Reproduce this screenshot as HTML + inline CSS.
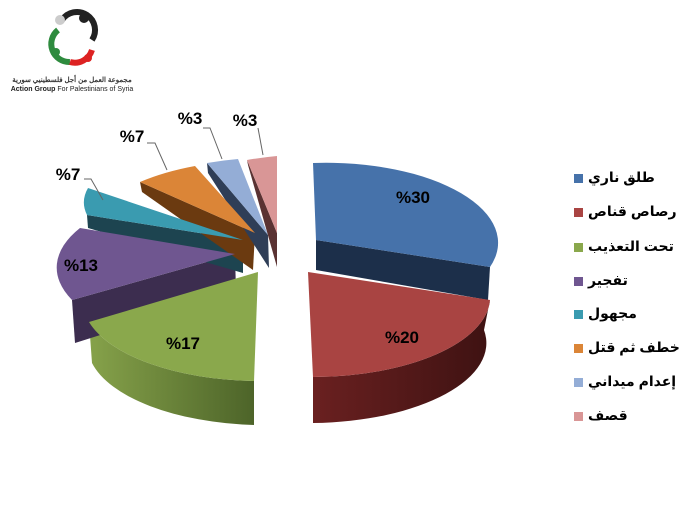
<!DOCTYPE html>
<html><head><meta charset="utf-8"><style>
body{margin:0;width:700px;height:525px;background:#fff;overflow:hidden;position:relative;font-family:"Liberation Sans","Noto Sans CJK SC",sans-serif}
.lg{position:absolute;left:574px;font:bold 14px "Liberation Sans","DejaVu Sans",sans-serif;color:#000;white-space:nowrap;line-height:18px}
.lg i{display:inline-block;width:9px;height:9px;margin-right:5px;vertical-align:middle}
</style></head><body>
<svg width="700" height="525" style="position:absolute;left:0;top:0">
<defs>
<linearGradient id="gr" x1="0" x2="1"><stop offset="0" stop-color="#6a2020"/><stop offset="1" stop-color="#3e1212"/></linearGradient>
<linearGradient id="gg" x1="0" x2="1"><stop offset="0" stop-color="#86a24a"/><stop offset="1" stop-color="#4d6429"/></linearGradient>
</defs>
<g>
<path d="M58,30 A18,18 0 0 0 70,62" fill="none" stroke="#2e8b3e" stroke-width="6"/>
<path d="M70,62 A18,18 0 0 0 92,50" fill="none" stroke="#d22" stroke-width="6"/>
<path d="M62,20 A18,18 0 0 1 92,40" fill="none" stroke="#222" stroke-width="6"/>
<circle cx="60" cy="20" r="5" fill="#ccc"/><circle cx="84" cy="18" r="5" fill="#222"/>
<circle cx="56" cy="52" r="4" fill="#2e8b3e"/><circle cx="88" cy="58" r="4" fill="#d22"/>
<text x="72" y="82" font-size="7" text-anchor="middle" font-weight="bold" fill="#333">مجموعة العمل من أجل فلسطينيي سورية</text>
<text x="72" y="91" font-size="7" text-anchor="middle" fill="#222"><tspan font-weight="bold">Action Group</tspan> For Palestinians of Syria</text>
</g>
<polygon points="316,240 490,267 488,300 316,270" fill="#1c2f4a"/>
<path d="M490,300 L484,330 A178,80 0 0 1 313,423 L313,377 A178,80 0 0 0 490,300Z" fill="url(#gr)"/>
<path d="M89,322 L92,363 A178,80 0 0 0 254,425 L254,381 A178,80 0 0 1 89,322Z" fill="url(#gg)"/>
<polygon points="235,254 72,300 75,343 236,292" fill="#3c2d4f"/>
<polygon points="87,215 88,228 243,273 243,240" fill="#1d4450"/>
<polygon points="140,182 142,192 253,270 255,233" fill="#6b3a10"/>
<polygon points="207,163 208,173 269,268 268,235" fill="#2f3e57"/>
<polygon points="247,160 248,165 277,267 277,233" fill="#5a3232"/>
<path d="M316,240 L313,163 A172,80 0 0 1 490,267Z" fill="#4672aa"/>
<path d="M308,272 L490,300 A178,80 0 0 1 313,377Z" fill="#a94442"/>
<path d="M258,272 L89,322 A178,80 0 0 0 254,381Z" fill="#8aa84c"/>
<path d="M235,254 L80,228 A178,80 0 0 0 72,300Z" fill="#6f5690"/>
<path d="M243,240 L88,188 A60,40 0 0 0 87,215Z" fill="#3a9bb0"/>
<path d="M255,233 L140,182 A178,80 0 0 1 195,166Z" fill="#db8537"/>
<path d="M268,235 L207,163 A178,80 0 0 1 238,159Z" fill="#94add6"/>
<path d="M277,233 L247,160 A178,80 0 0 1 277,156Z" fill="#d99696"/>
<g stroke="#666" fill="none" stroke-width="1">
<polyline points="84,179 91,179 103,200"/>
<polyline points="147,143 155,143 167,170"/>
<polyline points="203,128 210,128 222,159"/>
<polyline points="258,128 263,155"/>
</g>
<g font-weight="bold" font-size="17" fill="#000" text-anchor="middle" font-family="Liberation Sans, sans-serif">
<text x="413" y="203">%30</text><text x="402" y="343">%20</text>
<text x="183" y="349">%17</text><text x="81" y="271">%13</text>
<text x="68" y="180">%7</text><text x="132" y="142">%7</text>
<text x="190" y="124">%3</text><text x="245" y="126">%3</text>
</g>
</svg>
<div class="lg" style="top:168px"><i style="background:#4672aa"></i>طلق ناري</div>
<div class="lg" style="top:202px"><i style="background:#a94442"></i>رصاص قناص</div>
<div class="lg" style="top:237px"><i style="background:#8aa84c"></i>تحت التعذيب</div>
<div class="lg" style="top:271px"><i style="background:#6f5690"></i>تفجير</div>
<div class="lg" style="top:304px"><i style="background:#3a9bb0"></i>مجهول</div>
<div class="lg" style="top:338px"><i style="background:#db8537"></i>خطف ثم قتل</div>
<div class="lg" style="top:372px"><i style="background:#94add6"></i>إعدام ميداني</div>
<div class="lg" style="top:406px"><i style="background:#d99696"></i>قصف</div>
</body></html>
